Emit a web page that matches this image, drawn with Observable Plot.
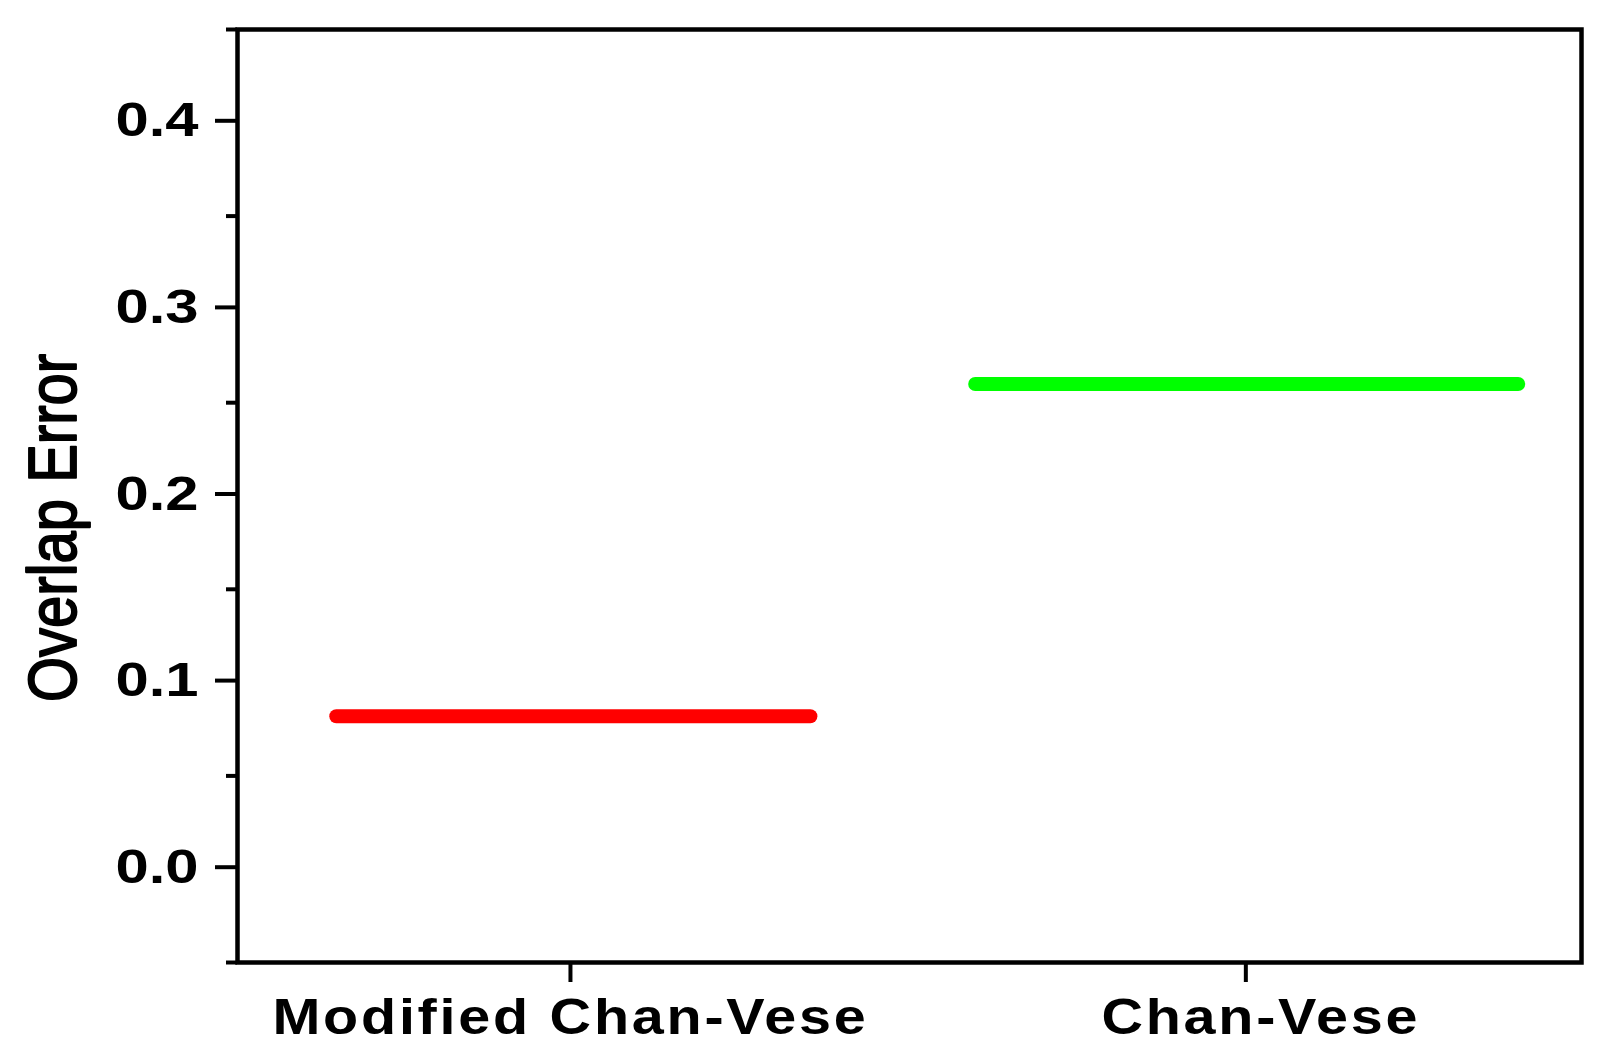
<!DOCTYPE html>
<html>
<head>
<meta charset="utf-8">
<script src="https://cdn.jsdelivr.net/npm/d3@7"></script>
<script src="https://cdn.jsdelivr.net/npm/@observablehq/plot@0.6"></script>
<style>
  html, body { margin: 0; padding: 0; background: #ffffff; overflow: hidden; }
  g[aria-label="x-axis tick label"] text { letter-spacing: 2.4px; }
</style>
</head>
<body>
<div id="chart"></div>
<script>
// ---- data ----
const categories = ["Modified Chan-Vese", "Chan-Vese"];
const categoryPos = [1, 2];
const overlapError = [0.082, 0.26];
const segStart = [0.654, 1.600];   // left end of each horizontal segment (x units)
const segEnd = [1.356, 2.404];     // right end of each horizontal segment (x units)
const colors = ["#ff0000", "#00ff00"];
const yTicks = [0.0, 0.1, 0.2, 0.3, 0.4];
const yTickLabels = ["0.0", "0.1", "0.2", "0.3", "0.4"];
const yMinorTicks = [-0.05, 0.05, 0.15, 0.25, 0.35, 0.45];
const yTitle = "Overlap Error";

const rows = categories.map((c, i) => ({
  category: c, x: categoryPos[i], y: overlapError[i],
  x1: segStart[i], x2: segEnd[i], color: colors[i]
}));

const labelStyle = { fontSize: 50, fontWeight: "bold", label: null, tickSize: 0, tickPadding: 36 };
const xLabel = (d) => categories[categoryPos.indexOf(d)];

const chart = Plot.plot({
  width: 1609,
  height: 1063,
  marginLeft: 237,
  marginRight: 28,
  marginTop: 29,
  marginBottom: 101,
  style: {
    fontFamily: "'Liberation Sans', Arial, Helvetica, sans-serif",
    background: "#ffffff",
    color: "#000000",
    overflow: "visible"
  },
  x: { type: "linear", domain: [0.507, 2.497] },
  y: { type: "linear", domain: [-0.05, 0.45] },
  marks: [
    Plot.ruleY(rows, {
      y: "y", x1: "x1", x2: "x2",
      stroke: "color", strokeWidth: 14, strokeLinecap: "round"
    }),
    Plot.frame({ stroke: "#000000", strokeWidth: 4.5 }),
    Plot.axisY({
      ticks: yMinorTicks, tickSize: 11, strokeWidth: 4,
      tickFormat: () => "", label: null
    }),
    Plot.axisY({
      ticks: yTicks, tickSize: 22, tickPadding: 17, strokeWidth: 4,
      tickFormat: (d) => yTickLabels[yTicks.indexOf(d)],
      fontSize: 49, fontWeight: "bold", dy: -2, label: null
    }),
    // x tick lines
    Plot.axisX({
      ticks: categoryPos, tickSize: 20, strokeWidth: 4,
      tickFormat: () => "", label: null
    }),
    // x tick labels (second one sits slightly right of its tick in the reference)
    Plot.axisX({ ...labelStyle, ticks: [categoryPos[0]], tickFormat: xLabel }),
    Plot.axisX({ ...labelStyle, ticks: [categoryPos[1]], tickFormat: xLabel, dx: 15 }),
    Plot.text([yTitle], {
      frameAnchor: "left", rotate: -90, textAnchor: "middle", lineAnchor: "bottom",
      fontSize: 58, fontWeight: "normal", fill: "#000000",
      stroke: "#000000", strokeWidth: 1.6,
      dx: -162, dy: 32
    })
  ]
});

document.getElementById("chart").appendChild(chart);

// The reference's lettering is horizontally widened; mimic by stretching glyphs.
function widen(selector, factor) {
  chart.querySelectorAll(selector).forEach((t) => {
    const L = t.getComputedTextLength();
    if (L > 0) {
      t.setAttribute("textLength", (L * factor).toFixed(2));
      t.setAttribute("lengthAdjust", "spacingAndGlyphs");
    }
  });
}
widen('g[aria-label="y-axis tick label"] text', 1.22);
widen('g[aria-label="x-axis tick label"] text', 1.15);

// Rotated y title: widen glyph height (screen-horizontal) direction.
chart.querySelectorAll('g[aria-label="text"] text').forEach((t) => {
  const tr = t.getAttribute("transform");
  if (tr && tr.includes("rotate")) t.setAttribute("transform", tr + " scale(1,1.18)");
});
</script>
</body>
</html>
